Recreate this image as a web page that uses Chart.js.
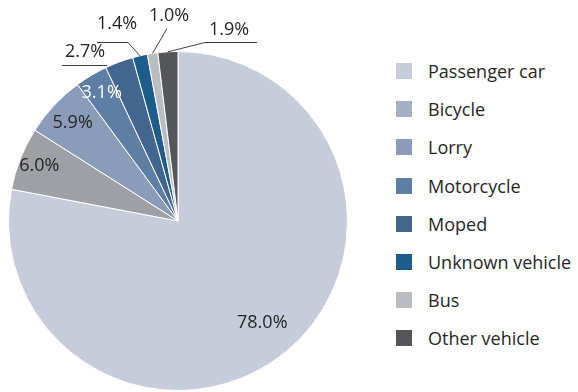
<!DOCTYPE html>
<html>
<head>
<meta charset="utf-8">
<title>Vehicle types</title>
<script src="https://cdn.jsdelivr.net/npm/chart.js@4/dist/chart.umd.min.js"></script>
<style>
  html, body { margin: 0; padding: 0; background: #fff; }
  body { width: 578px; height: 392px; position: relative; overflow: hidden; font-family: 'Open Sans', sans-serif; }
  #pieChart { position: absolute; left: 0; top: 0; }
  #legend { position: absolute; left: 396px; top: 63px; list-style: none; margin: 0; padding: 0; }
  #legend li { display: flex; align-items: center; height: 16px; line-height: 16px; margin-bottom: 22.2px; font-size: 18px; color: #262626; white-space: nowrap; }
  #legend .swatch { width: 16px; height: 16px; margin-right: 16px; flex: none; }
</style>
</head>
<body>
<canvas id="pieChart" width="356" height="392"></canvas>
<ul id="legend"></ul>
<script>
const categories = ['Passenger car', 'Bicycle', 'Lorry', 'Motorcycle', 'Moped', 'Unknown vehicle', 'Bus', 'Other vehicle'];
const shares = [78.0, 6.0, 5.9, 3.1, 2.7, 1.4, 1.0, 1.9];

// slice fills and legend swatches
const sliceColors = ['#c6ccd9', '#9da0a5', '#8a9cb9', '#5f7ea5', '#436690', '#1e5c8c', '#b9bcc1', '#545659'];
const swatchColors = ['#c6ccd9', '#a3aec7', '#8a9cb9', '#5f7ea5', '#436690', '#1e5c8c', '#b9bcc1', '#545659'];

// label placement: r = fraction of radius (inside), otherwise a callout
const labelPlacement = [
    { r: 0.78 },
    { r: 0.88 },
    { r: 0.85 },
    { r: 0.88, color: '#ffffff' },
    { text: [85, 52], rule: [62, 107, 65] },
    { text: [117, 24], rule: [97, 128, 42], from: [128, 42] },
    { text: [169, 16], from: [167, 28] },
    { text: [229, 30], rule: [205, 257, 42], from: [205, 42] }
];

const sliceLabels = {
    id: 'sliceLabels',
    afterDatasetsDraw(chart) {
        const ctx = chart.ctx;
        const meta = chart.getDatasetMeta(0);
        ctx.save();
        ctx.font = '18px "Open Sans"';
        ctx.textAlign = 'center';
        ctx.textBaseline = 'middle';
        ctx.strokeStyle = '#404040';
        ctx.lineWidth = 1;
        meta.data.forEach(function (arc, i) {
            const text = shares[i].toFixed(1) + '%';
            const mid = (arc.startAngle + arc.endAngle) / 2;
            const place = labelPlacement[i];
            if (place.r) {
                const r = arc.outerRadius * place.r;
                ctx.fillStyle = place.color || '#262626';
                ctx.fillText(text, arc.x + Math.cos(mid) * r, arc.y + Math.sin(mid) * r);
                return;
            }
            ctx.fillStyle = '#262626';
            ctx.fillText(text, place.text[0], place.text[1]);
            ctx.beginPath();
            if (place.rule) {
                ctx.moveTo(place.rule[0], place.rule[2] + 0.5);
                ctx.lineTo(place.rule[1], place.rule[2] + 0.5);
            }
            if (place.from) {
                ctx.moveTo(place.from[0], place.from[1] + 0.5);
                ctx.lineTo(arc.x + Math.cos(mid) * arc.outerRadius, arc.y + Math.sin(mid) * arc.outerRadius);
            }
            ctx.stroke();
        });
        ctx.restore();
    }
};

const chart = new Chart(document.getElementById('pieChart'), {
    type: 'pie',
    data: {
        labels: categories,
        datasets: [{
            data: shares,
            backgroundColor: sliceColors,
            borderColor: '#ffffff',
            borderWidth: 1
        }]
    },
    options: {
        responsive: false,
        animation: false,
        layout: { padding: { top: 51, bottom: 1, left: 8, right: 8 } },
        plugins: {
            legend: { display: false }, // built in HTML below
            tooltip: { enabled: false }
        }
    },
    plugins: [sliceLabels]
});

// HTML legend
const legendEl = document.getElementById('legend');
chart.data.labels.forEach(function (label, i) {
    const li = document.createElement('li');
    const box = document.createElement('span');
    box.className = 'swatch';
    box.style.background = swatchColors[i];
    li.appendChild(box);
    li.appendChild(document.createTextNode(label));
    legendEl.appendChild(li);
});
</script>
</body>
</html>
